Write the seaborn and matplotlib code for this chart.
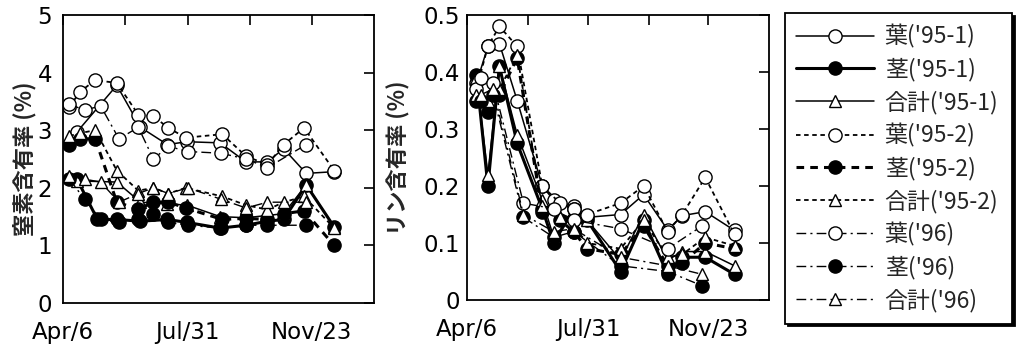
import matplotlib
matplotlib.use("Agg")
import matplotlib.pyplot as plt
import seaborn as sns
import pandas as pd

# ---- nitrogen content (%) ----
n_days_951 = [13, 50, 72, 97, 115, 146, 170, 190, 205, 226, 252]
n_leaf_951 = [2.97, 3.78, 3.05, 2.75, 2.80, 2.78, 2.45, 2.45, 2.68, 2.25, 2.28]
n_stem_days_951 = [13, 32, 50, 72, 97, 115, 146, 170, 190, 205, 226, 252]
n_stem_951 = [2.15, 1.45, 1.45, 1.42, 1.45, 1.40, 1.30, 1.35, 1.42, 1.45, 2.05, 1.32]
n_total_951 = [2.12, 2.10, 1.75, 1.72, 1.70, 1.50, 1.48, 1.52, 1.55, 2.05, 1.32]

n_days_952 = [6, 16, 30, 50, 70, 84, 98, 114, 148, 170, 190, 205, 224, 252]
n_leaf_952 = [3.41, 3.67, 3.87, 3.82, 3.27, 3.24, 3.04, 2.87, 2.93, 2.55, 2.40, 2.75, 3.04, 2.30]
n_stem_952 = [2.75, 2.85, 2.85, 1.75, 1.63, 1.75, 1.75, 1.65, 1.45, 1.47, 1.45, 1.55, 1.60, 1.00]
n_total_952 = [2.90, 2.95, 3.00, 2.30, 1.95, 2.00, 1.90, 2.00, 1.85, 1.70, 1.62, 1.75, 1.85, 1.30]

n_days_96 = [6, 20, 35, 52, 70, 84, 98, 116, 147, 170, 190, 226]
n_leaf_96 = [3.45, 3.35, 3.42, 2.85, 3.05, 2.50, 2.72, 2.63, 2.60, 2.50, 2.35, 2.75]
n_stem_96 = [2.15, 1.80, 1.45, 1.40, 1.45, 1.55, 1.40, 1.35, 1.30, 1.35, 1.35, 1.35]
n_total_96 = [2.20, 2.15, 2.10, 1.75, 1.90, 2.00, 1.90, 2.00, 1.80, 1.65, 1.75, 1.75]

# ---- phosphorus content (%) ----
p_days_951 = [9, 20, 31, 48, 72, 83, 102, 115, 147, 169, 192, 206, 228, 256]
p_leaf_951 = [0.38, 0.445, 0.45, 0.35, 0.20, 0.175, 0.165, 0.145, 0.15, 0.185, 0.123, 0.148, 0.155, 0.122]
p_stem_951 = [0.395, 0.20, 0.41, 0.275, 0.16, 0.10, 0.16, 0.14, 0.05, 0.14, 0.045, 0.075, 0.075, 0.045]
p_total_951 = [0.39, 0.22, 0.41, 0.29, 0.175, 0.11, 0.15, 0.14, 0.07, 0.15, 0.07, 0.085, 0.085, 0.06]

p_days_952 = [9, 20, 31, 48, 72, 89, 102, 115, 147, 169, 192, 206, 228, 256]
p_leaf_952 = [0.37, 0.445, 0.48, 0.445, 0.20, 0.17, 0.16, 0.15, 0.17, 0.20, 0.12, 0.15, 0.215, 0.115]
p_stem_952 = [0.35, 0.33, 0.36, 0.425, 0.155, 0.14, 0.12, 0.09, 0.08, 0.13, 0.06, 0.065, 0.10, 0.09]
p_total_952 = [0.36, 0.35, 0.37, 0.43, 0.165, 0.145, 0.13, 0.10, 0.09, 0.14, 0.075, 0.08, 0.11, 0.095]

p_days_96 = [13, 25, 54, 83, 102, 147, 192, 225]
p_leaf_96 = [0.39, 0.38, 0.17, 0.16, 0.14, 0.125, 0.09, 0.13]
p_stem_96 = [0.35, 0.36, 0.145, 0.11, 0.12, 0.06, 0.05, 0.025]
p_total_96 = [0.36, 0.37, 0.15, 0.12, 0.125, 0.075, 0.06, 0.045]

labels = ["葉('95-1)", "茎('95-1)", "合計('95-1)",
          "葉('95-2)", "茎('95-2)", "合計('95-2)",
          "葉('96)", "茎('96)", "合計('96)"]
tick_days = [0, 58, 116, 174, 231]
tick_labels = ["Apr/6", "", "Jul/31", "", "Nov/23"]

sns.set_style("white")
plt.rcParams["font.family"] = ["DejaVu Sans", "Noto Sans CJK JP"]
plt.rcParams["axes.unicode_minus"] = False
CJK = ["Noto Sans CJK JP", "DejaVu Sans"]

SOLID = "-"
DOT = (0, (2.5, 2))
DASHDOT = (0, (7, 3, 1.5, 3))
styles = [
    dict(ls=SOLID, marker="o", fill="white", lw=1.1),
    dict(ls=SOLID, marker="o", fill="black", lw=2.2),
    dict(ls=SOLID, marker="^", fill="white", lw=1.1),
    dict(ls=DOT, marker="o", fill="white", lw=1.3),
    dict(ls=DOT, marker="o", fill="black", lw=2.2),
    dict(ls=DOT, marker="^", fill="white", lw=1.3),
    dict(ls=DASHDOT, marker="o", fill="white", lw=1.0),
    dict(ls=DASHDOT, marker="o", fill="black", lw=1.0),
    dict(ls=DASHDOT, marker="^", fill="white", lw=1.0),
]

n_series = [
    (n_days_951, n_leaf_951), (n_stem_days_951, n_stem_951), (n_days_951, n_total_951),
    (n_days_952, n_leaf_952), (n_days_952, n_stem_952), (n_days_952, n_total_952),
    (n_days_96, n_leaf_96), (n_days_96, n_stem_96), (n_days_96, n_total_96),
]
p_series = [
    (p_days_951, p_leaf_951), (p_days_951, p_stem_951), (p_days_951, p_total_951),
    (p_days_952, p_leaf_952), (p_days_952, p_stem_952), (p_days_952, p_total_952),
    (p_days_96, p_leaf_96), (p_days_96, p_stem_96), (p_days_96, p_total_96),
]

W, H = 1017, 344
fig = plt.figure(figsize=(W / 100, H / 100), dpi=100)
ax_n = fig.add_axes([63 / W, (H - 303) / H, 311 / W, 288 / H])
ax_p = fig.add_axes([467 / W, (H - 300) / H, 302 / W, 285 / H])


def draw(ax, series):
    handles = []
    for (days, vals), st, lab in zip(series, styles, labels):
        df = pd.DataFrame({"day": days, "value": vals})
        sns.lineplot(data=df, x="day", y="value", ax=ax, color="black",
                     linestyle=st["ls"], linewidth=st["lw"], marker=st["marker"],
                     markersize=9.5 if st["marker"] == "o" else 9,
                     markerfacecolor=st["fill"], markeredgecolor="black",
                     markeredgewidth=1.0, errorbar=None, sort=False, label=lab)
        handles.append(ax.lines[-1])
    if ax.get_legend() is not None:
        ax.get_legend().remove()
    return handles


draw(ax_n, n_series)
handles = draw(ax_p, p_series)

for ax in (ax_n, ax_p):
    ax.set_xlim(0, 289)
    ax.set_xticks(tick_days)
    ax.set_xticklabels(tick_labels)
    ax.set_xlabel("")
    ax.tick_params(direction="in", length=7, width=1.2, top=True, right=True,
                   labelsize=16.5, colors="black", pad=5)
    ax.tick_params(axis="x", pad=13)
    for sp in ax.spines.values():
        sp.set_color("black")
        sp.set_linewidth(1.3)

ax_n.set_ylim(0, 5)
ax_n.set_yticks([0, 1, 2, 3, 4, 5])
ax_n.tick_params(axis="y", pad=8)
ax_n.set_ylabel("窒素含有率 (%)", fontsize=16, family=CJK, fontweight="bold")
ax_n.yaxis.set_label_coords(-27 / 311, 0.5)
ax_p.set_ylim(0, 0.5)
ax_p.set_yticks([0, 0.1, 0.2, 0.3, 0.4, 0.5])
ax_p.set_yticklabels(["0", "0.1", "0.2", "0.3", "0.4", "0.5"])
ax_p.tick_params(axis="y", pad=5)
ax_p.set_ylabel("リン含有率 (%)", fontsize=16, family=CJK, fontweight="bold")
ax_p.yaxis.set_label_coords(-57 / 302, 0.5)

ax_leg = fig.add_axes([785 / W, 22 / H, 227 / W, 309 / H])
ax_leg.axis("off")
leg = ax_leg.legend(handles, labels, loc="upper left", bbox_to_anchor=(0, 0, 1, 1),
                    mode="expand", borderaxespad=0, numpoints=1, handlelength=3.4,
                    handletextpad=0.45, labelspacing=0.4, borderpad=0.5,
                    fancybox=False, shadow={"color": "black", "alpha": 1},
                    prop={"family": CJK, "size": 16.5})
leg.get_frame().set_edgecolor("black")
leg.get_frame().set_linewidth(1.3)

fig.savefig("out.png", dpi=100, facecolor="white")
